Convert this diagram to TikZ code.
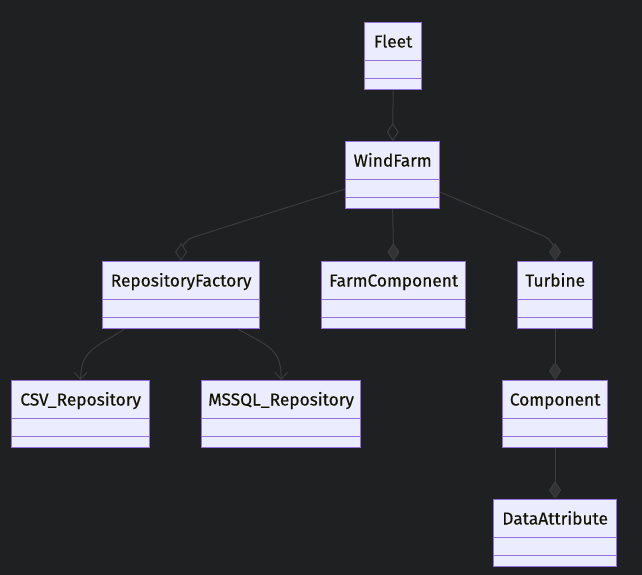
\documentclass[tikz,border=0pt]{standalone}
\usepackage{fontspec}
\setmainfont{Fira Sans}[FakeBold=0.3]
\usetikzlibrary{arrows.meta}
\definecolor{bg}{HTML}{1F2022}
\definecolor{boxfill}{HTML}{ECECFF}
\definecolor{boxline}{HTML}{9370DB}
\definecolor{edge}{HTML}{3C3C3C}
\definecolor{diam}{HTML}{333333}
\definecolor{txt}{HTML}{131300}
\tikzset{
  umlbox/.style={draw=boxline, fill=boxfill, line width=1.3pt, inner sep=0pt},
  lbl/.style={text=txt, font=\fontsize{17.3}{20}\selectfont, inner sep=0pt, anchor=base},
  divider/.style={draw=boxline, line width=1.3pt},
  conn/.style={draw=edge, line width=1pt},
  agg/.style={conn, -{Diamond[open, length=18pt, width=12pt, fill=bg]}},
  comp/.style={conn, -{Diamond[length=18pt, width=12pt, fill=diam]}},
  dep/.style={conn, -{Straight Barb[length=7pt, width=13pt]}},
}
% \umlclass{name}{xleft}{ytop}{width}{text}
\newcommand{\umlclass}[5]{%
  \node[umlbox, minimum width=#4pt, minimum height=67pt, anchor=north west] (#1) at (#2,#3) {};
  \node[lbl] at ([yshift=-25.5pt]#1.north) {#5};
  \draw[divider] ([yshift=-38.5pt]#1.north west) -- ([yshift=-38.5pt]#1.north east);
  \draw[divider] ([yshift=-56.5pt]#1.north west) -- ([yshift=-56.5pt]#1.north east);
}
\begin{document}
\begin{tikzpicture}[x=1pt, y=-1pt]
\useasboundingbox[fill=bg] (0,0) rectangle (642,575);
\umlclass{fleet}{364}{22}{57}{Fleet}
\umlclass{wf}{345}{141}{94}{WindFarm}
\umlclass{rf}{102}{261}{157}{RepositoryFactory}
\umlclass{fc}{321}{261}{144}{FarmComponent}
\umlclass{tu}{517}{261}{75}{Turbine}
\umlclass{csv}{11}{380}{138}{CSV\_Repository}
\umlclass{ms}{201}{380}{159}{MSSQL\_Repository}
\umlclass{co}{502}{380}{105}{Component}
\umlclass{da}{493}{499}{123}{DataAttribute}

\draw[agg] (fleet.south) -- (wf.north);
\draw[agg, rounded corners=12pt] ([yshift=-14pt]wf.west) -- ([yshift=20pt]rf.north) -- (rf.north);
\draw[comp] (wf.south) -- (fc.north);
\draw[comp, rounded corners=12pt] ([yshift=-17pt]wf.east) -- ([yshift=20pt]tu.north) -- (tu.north);
\draw[dep] ([xshift=-57pt]rf.south) .. controls ([xshift=-85pt, yshift=-18pt]rf.south) and ([yshift=30pt]csv.north) .. (csv.north);
\draw[dep] ([xshift=57pt]rf.south) .. controls ([xshift=90pt, yshift=-18pt]rf.south) and ([yshift=30pt]ms.north) .. (ms.north);
\draw[comp] (tu.south) -- (co.north);
\draw[comp] (co.south) -- (da.north);
\end{tikzpicture}
\end{document}
